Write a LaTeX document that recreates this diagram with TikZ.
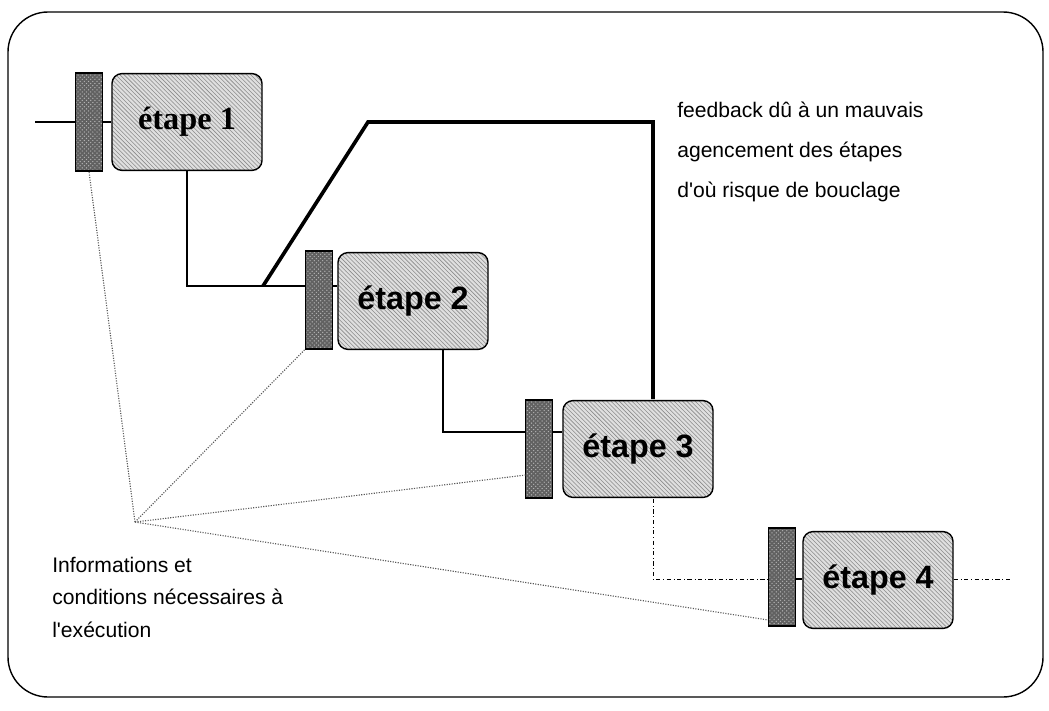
\documentclass[tikz,border=0pt]{standalone}
\usepackage{fontspec}
\setmainfont{Liberation Sans}
\newfontfamily\timesfont{Liberation Serif}
\usetikzlibrary{patterns}

\tikzset{
  etape/.style={draw, line width=1pt, rounded corners=2.5mm,
    minimum width=3.75cm, minimum height=2.42cm,
    preaction={fill=gray!25}, pattern=north west lines, pattern color=gray!90,
    font=\fontsize{23}{27}\selectfont\bfseries},
  barre/.style={draw, line width=0.8pt, minimum width=0.68cm, minimum height=2.45cm,
    inner sep=0pt, preaction={fill=black!62}, pattern=crosshatch dots, pattern color=black!30},
  lien/.style={line width=1.2pt},
  feedback/.style={line width=2.6pt},
  info/.style={densely dotted, line width=0.8pt, gray!70!black},
  suite/.style={dash dot, line width=0.7pt},
  texte/.style={align=left, inner sep=0pt}
}

\begin{document}
\begin{tikzpicture}[x=0.025cm, y=-0.025cm]
  \useasboundingbox (0,0) rectangle (1049,710);
  % cadre
  \draw[line width=1pt, rounded corners=1cm] (8,12) rectangle (1043,697);

  % les etapes et leurs barres
  \node[barre] (b1) at (89,122) {};
  \node[etape, font=\fontsize{23}{27}\selectfont\timesfont\bfseries] (e1) at (187,122) {étape 1};
  \node[barre] (b2) at (319,300) {};
  \node[etape] (e2) at (413,301) {étape 2};
  \node[barre] (b3) at (539,449) {};
  \node[etape] (e3) at (638,449) {étape 3};
  \node[barre] (b4) at (782,577) {};
  \node[etape] (e4) at (878,580) {étape 4};

  % points de passage
  \coordinate (entree) at (35,122);
  \coordinate (j2) at (263,286);
  \coordinate (j3) at (443,432);
  \coordinate (fb) at (368,122);
  \coordinate (fb3) at (653,399);
  \coordinate (s3) at (653,499);
  \coordinate (j4) at (653,579);
  \coordinate (sortie) at (1010,579);
  \coordinate (hub) at (135,522);
  \coordinate (i3) at (526,475);
  \coordinate (i4) at (768,620);

  % enchainement
  \draw[lien] (entree) -- (b1.west);
  \draw[lien] (b1.east) -- (e1.west);
  \draw[lien] (e1.south) |- (j2 -| b2.west);
  \draw[lien] (j2 -| b2.east) -- (j2 -| e2.west);
  \draw[lien] (e2.south -| j3) -- (j3) -- (j3 -| b3.west);
  \draw[lien] (j3 -| b3.east) -- (j3 -| e3.west);
  \draw[lien] (j4 -| b4.east) -- (j4 -| e4.west);

  % boucle de feedback
  \draw[feedback] (j2) -- (fb) -- (fb -| fb3) -- (fb3);

  % suite en trait mixte
  \draw[suite] (s3) -- (j4) -- (j4 -| b4.west);
  \draw[suite] (j4 -| e4.east) -- (sortie);

  % informations necessaires
  \draw[info] (hub) -- (b1.south);
  \draw[info] (hub) -- (b2.south west);
  \draw[info] (hub) -- (i3);
  \draw[info] (hub) -- (i4);

  % textes
  \node[texte, anchor=north west, font=\fontsize{15}{28.5}\selectfont] (txtfb) at (677,102)
    {feedback dû à un mauvais\\agencement des étapes\\d\textquotesingle où risque de bouclage};
  \node[texte, anchor=north west, font=\fontsize{15}{23}\selectfont] (txtinfo) at (52,557)
    {Informations et\\conditions nécessaires à\\l\textquotesingle exécution};
\end{tikzpicture}
\end{document}
